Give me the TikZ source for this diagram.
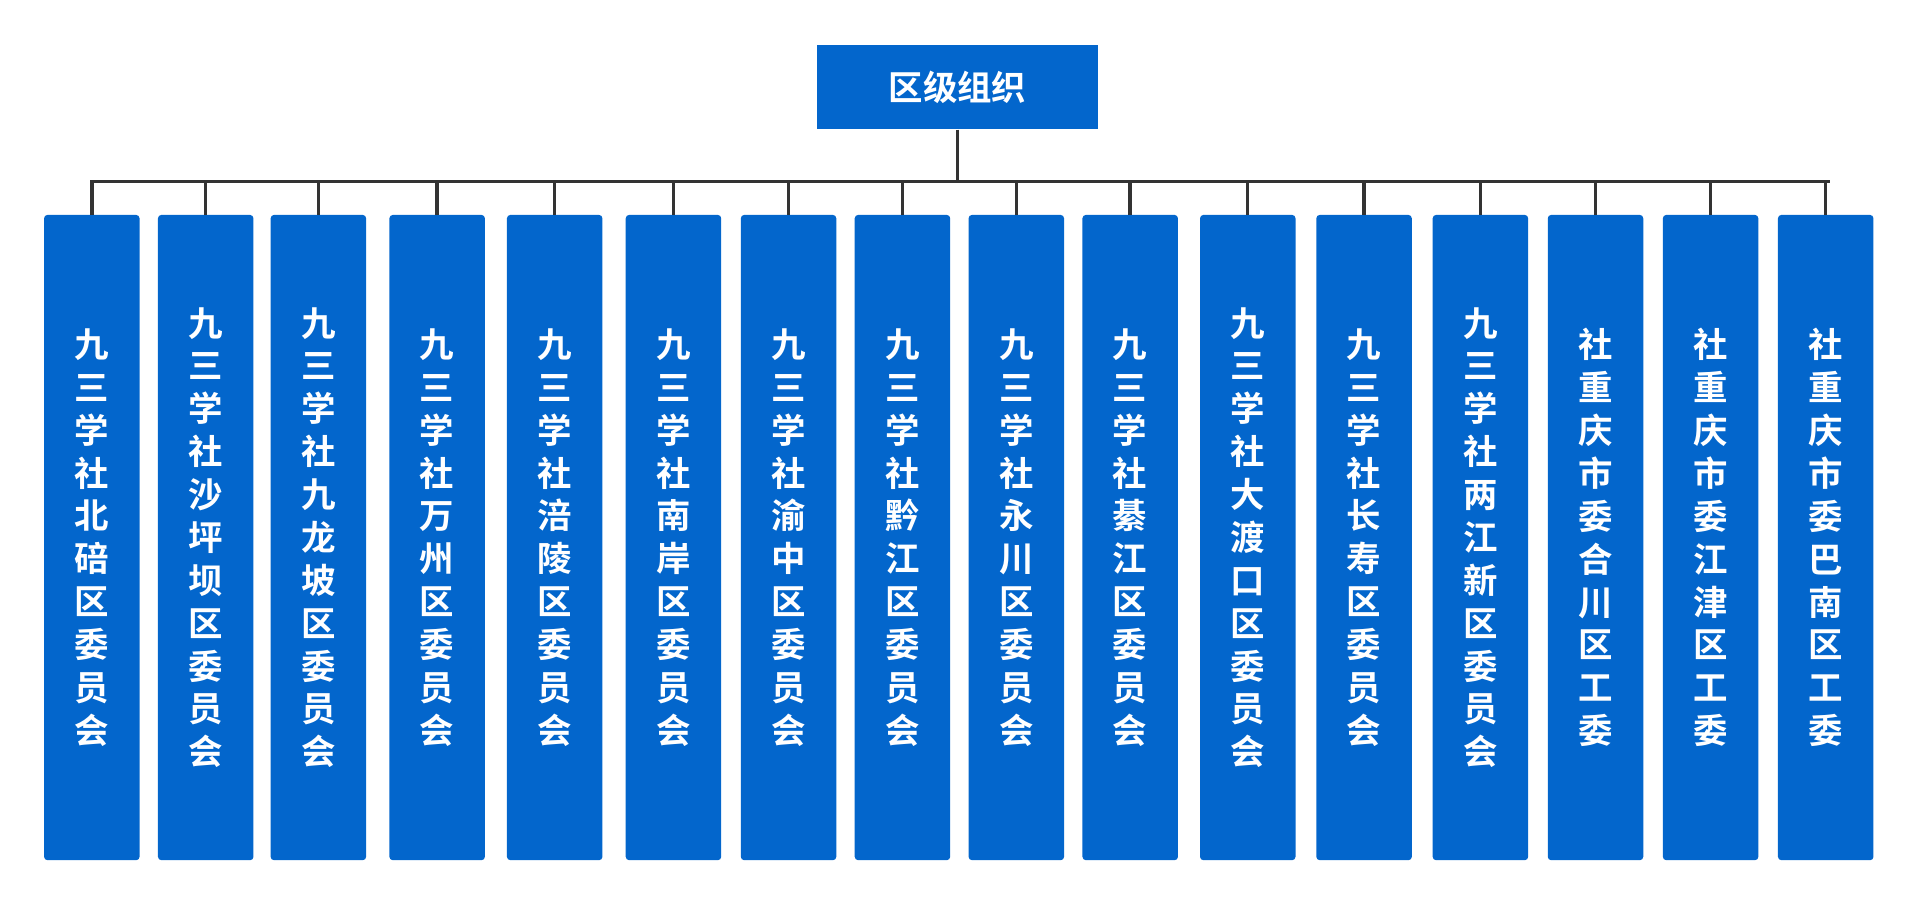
\documentclass[tikz,border=0pt]{standalone}
\usepackage{fontspec}
\setmainfont{Noto Sans CJK SC}[BoldFont=* Bold]
\usetikzlibrary{positioning}
\definecolor{orgblue}{HTML}{0366CC}
\definecolor{orgline}{HTML}{333333}
\tikzset{
  topbox/.style={fill=orgblue, text=white, font=\bfseries\fontsize{20pt}{24pt}\selectfont,
    minimum width=229*0.025cm, minimum height=69*0.025cm, inner sep=0pt},
  unitbox/.style={fill=orgblue, text=white, rounded corners=2pt, inner sep=0pt,
    minimum width=78*0.025cm, minimum height=527*0.025cm,
    font=\bfseries\fontsize{20pt}{0.875cm}\selectfont, align=center},
  bus/.style={draw=orgline, line width=2pt}
}
\begin{document}
\begin{tikzpicture}[x=0.025cm, y=-0.025cm]
  \useasboundingbox (0,0) rectangle (1568,745);
  %% Head
  \node[topbox] (top) at (782,71) {区级组织};
  \coordinate (busL) at (75,148);
  \coordinate (busR) at (1493,148);
  \draw[bus] (top.south) -- (top.south |- busL);
  \draw[bus, line cap=rect] (busL) -- (busR);
  %% Units
  \foreach \x/\t [count=\i] in {
      75/{九\\三\\学\\社\\北\\碚\\区\\委\\员\\会},
      168/{九\\三\\学\\社\\沙\\坪\\坝\\区\\委\\员\\会},
      260/{九\\三\\学\\社\\九\\龙\\坡\\区\\委\\员\\会},
      357/{九\\三\\学\\社\\万\\州\\区\\委\\员\\会},
      453/{九\\三\\学\\社\\涪\\陵\\区\\委\\员\\会},
      550/{九\\三\\学\\社\\南\\岸\\区\\委\\员\\会},
      644/{九\\三\\学\\社\\渝\\中\\区\\委\\员\\会},
      737/{九\\三\\学\\社\\黔\\江\\区\\委\\员\\会},
      830/{九\\三\\学\\社\\永\\川\\区\\委\\员\\会},
      923/{九\\三\\学\\社\\綦\\江\\区\\委\\员\\会},
      1019/{九\\三\\学\\社\\大\\渡\\口\\区\\委\\员\\会},
      1114/{九\\三\\学\\社\\长\\寿\\区\\委\\员\\会},
      1209/{九\\三\\学\\社\\两\\江\\新\\区\\委\\员\\会},
      1303/{社\\重\\庆\\市\\委\\合\\川\\区\\工\\委},
      1397/{社\\重\\庆\\市\\委\\江\\津\\区\\工\\委},
      1491/{社\\重\\庆\\市\\委\\巴\\南\\区\\工\\委}} {
    \node[unitbox] (u\i) at (\x,439) {\t};
    \draw[bus] (u\i.north |- busL) -- (u\i.north);
  }
\end{tikzpicture}
\end{document}
